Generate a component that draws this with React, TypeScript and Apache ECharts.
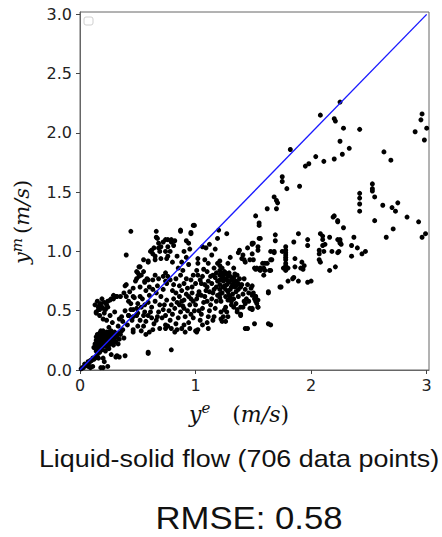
import React, { useEffect, useRef } from "react";
import * as echarts from "echarts";

const xTicks = [0, 1, 2, 3];
const yTicks = [0, 0.5, 1.0, 1.5, 2.0, 2.5, 3.0];
const diagonal = [[0, 0], [3, 3]];

const originPoints = [
  [0.01, 0.01], [0.02, 0.02], [0.03, 0.02], [0.04, 0.05], [0.05, 0.04], [0.06, 0.05], [0.07, 0.07], [0.08, 0.06],
  [0.09, 0.08], [0.1, 0.08], [0.11, 0.1], [0.12, 0.09], [0.13, 0.1], [0.14, 0.11], [0.16, 0.1], [0.15, 0.13],
  [0.07, 0.03], [0.09, 0.02], [0.11, 0.03], [0.18, 0.02], [0.2, 0.02], [0.24, 0.03], [0.21, 0.07], [0.2, 0.1],
  [0.27, 0.13], [0.31, 0.11], [0.34, 0.11], [0.32, 0.12], [0.39, 0.12], [0.59, 0.14], [0.59, 0.15], [0.79, 0.17],
  [0.17, 0.15], [0.19, 0.17], [0.22, 0.16], [0.25, 0.18], [0.14, 0.16],
];

const lowCluster = [
  [0.13, 0.22], [0.14, 0.25], [0.14, 0.28], [0.15, 0.2], [0.15, 0.24], [0.15, 0.27], [0.15, 0.3], [0.16, 0.22],
  [0.16, 0.26], [0.16, 0.29], [0.17, 0.21], [0.17, 0.24], [0.17, 0.27], [0.17, 0.31], [0.18, 0.19], [0.18, 0.23],
  [0.18, 0.26], [0.18, 0.29], [0.18, 0.33], [0.19, 0.21], [0.19, 0.25], [0.19, 0.28], [0.19, 0.31], [0.2, 0.2],
  [0.2, 0.23], [0.2, 0.26], [0.2, 0.3], [0.2, 0.33], [0.21, 0.22], [0.21, 0.25], [0.21, 0.28], [0.21, 0.31],
  [0.22, 0.2], [0.22, 0.24], [0.22, 0.27], [0.22, 0.3], [0.23, 0.22], [0.23, 0.26], [0.23, 0.29], [0.23, 0.32],
  [0.24, 0.24], [0.24, 0.27], [0.24, 0.3], [0.25, 0.21], [0.25, 0.25], [0.25, 0.28], [0.25, 0.32], [0.26, 0.23],
  [0.26, 0.27], [0.26, 0.3], [0.27, 0.25], [0.27, 0.29], [0.27, 0.33], [0.28, 0.22], [0.28, 0.27], [0.28, 0.31],
  [0.29, 0.25], [0.29, 0.29], [0.3, 0.27], [0.3, 0.32], [0.31, 0.24], [0.31, 0.3], [0.32, 0.28], [0.33, 0.31],
  [0.34, 0.26], [0.35, 0.3], [0.36, 0.33], [0.12, 0.19], [0.16, 0.18], [0.24, 0.19], [0.29, 0.21], [0.33, 0.22],
  [0.38, 0.27],
  [0.14, 0.21], [0.16, 0.24], [0.17, 0.29], [0.19, 0.23], [0.19, 0.27], [0.2, 0.24], [0.21, 0.27], [0.22, 0.22],
  [0.22, 0.29], [0.23, 0.25], [0.24, 0.22], [0.24, 0.28], [0.26, 0.25], [0.26, 0.29], [0.27, 0.27], [0.28, 0.25],
  [0.29, 0.27], [0.3, 0.24], [0.18, 0.27], [0.15, 0.26],
];

const leftCloud = [
  [0.16, 0.53], [0.17, 0.51], [0.19, 0.53], [0.23, 0.55], [0.22, 0.51], [0.14, 0.49], [0.14, 0.48], [0.16, 0.51],
  [0.17, 0.46], [0.21, 0.48], [0.26, 0.46], [0.3, 0.49], [0.17, 0.55], [0.18, 0.56], [0.21, 0.57], [0.24, 0.58],
  [0.27, 0.6], [0.29, 0.63], [0.31, 0.62], [0.32, 0.62], [0.29, 0.6], [0.26, 0.59], [0.2, 0.52], [0.24, 0.53],
  [0.15, 0.58], [0.19, 0.6], [0.13, 0.55], [0.2, 0.43], [0.23, 0.42], [0.28, 0.4], [0.33, 0.37], [0.25, 0.36],
  [0.4, 0.72], [0.38, 0.65], [0.46, 0.69], [0.39, 0.71], [0.43, 0.66], [0.35, 0.62],
  [0.49, 0.83], [0.51, 0.79], [0.48, 0.75], [0.56, 0.75], [0.58, 0.77], [0.55, 0.83], [0.52, 0.87], [0.59, 0.91],
  [0.55, 0.93], [0.51, 0.87], [0.5, 0.82], [0.53, 0.8], [0.49, 0.77], [0.56, 0.74], [0.59, 0.76], [0.63, 0.76],
  [0.65, 0.8], [0.68, 0.77], [0.72, 0.79], [0.74, 0.75],
  [0.44, 1.17], [0.66, 1.17], [0.67, 1.11], [0.4, 0.97], [0.68, 1.07], [0.64, 1.03], [0.7, 1.04], [0.74, 1.0],
  [0.61, 1.0], [0.65, 0.93], [0.7, 0.94], [0.59, 0.92], [0.75, 0.94], [0.62, 1.01], [0.63, 0.98], [0.68, 1.03],
  [0.69, 1.0], [0.65, 0.96], [0.72, 1.08], [0.76, 1.1], [0.79, 1.08], [0.81, 1.05], [0.87, 1.17], [0.96, 1.16],
  [0.99, 1.22], [0.66, 1.12],
  [0.4, 0.62], [0.42, 0.58], [0.44, 0.56], [0.47, 0.61], [0.5, 0.56], [0.52, 0.62], [0.53, 0.53], [0.56, 0.55],
  [0.59, 0.57], [0.62, 0.53], [0.65, 0.58], [0.69, 0.55], [0.73, 0.55], [0.75, 0.59], [0.68, 0.49], [0.72, 0.51],
  [0.56, 0.49], [0.49, 0.52], [0.44, 0.51], [0.42, 0.46], [0.46, 0.45], [0.5, 0.48], [0.55, 0.46], [0.59, 0.46],
  [0.62, 0.44], [0.67, 0.45], [0.71, 0.44], [0.74, 0.46], [0.57, 0.41], [0.64, 0.39], [0.69, 0.35], [0.74, 0.35],
  [0.6, 0.32], [0.46, 0.34], [0.46, 0.51], [0.49, 0.46], [0.52, 0.42], [0.45, 0.42], [0.55, 0.37], [0.57, 0.3],
  [0.46, 0.32], [0.37, 0.41], [0.42, 0.46], [0.37, 0.34], [0.36, 0.45], [0.39, 0.5], [0.34, 0.43], [0.41, 0.38],
  [0.5, 0.37], [0.53, 0.33], [0.63, 0.34], [0.66, 0.42], [0.61, 0.49], [0.54, 0.6], [0.6, 0.63], [0.66, 0.65],
  [0.7, 0.62], [0.63, 0.68], [0.57, 0.67], [0.52, 0.7], [0.46, 0.62], [0.72, 0.68], [0.6, 0.7], [0.67, 0.71],
];

const centerCloud = [
  [0.87, 1.18], [0.98, 1.22], [0.96, 1.15], [0.92, 1.09], [0.94, 1.07], [0.95, 1.02], [0.79, 1.1], [0.82, 1.09],
  [0.74, 1.1], [0.76, 1.04], [1.2, 1.18], [1.27, 1.15], [1.19, 1.11], [1.06, 1.04], [1.09, 1.03], [1.17, 1.02],
  [0.84, 0.96], [0.88, 0.91], [0.92, 0.95], [0.85, 0.86], [0.89, 0.84], [0.94, 0.89], [0.76, 0.96],
  [0.74, 0.82], [0.76, 0.79], [0.75, 0.73], [0.78, 0.76], [0.81, 0.72],
  [1.02, 0.94], [1.02, 0.9], [1.01, 0.84], [1.02, 0.8], [1.04, 0.76], [1.05, 0.73], [1.0, 0.73], [0.97, 0.7],
  [1.11, 0.9], [1.1, 0.83], [1.13, 0.79], [1.11, 0.75], [1.08, 0.72],
  [0.79, 0.35], [0.76, 0.37], [0.74, 0.38], [0.82, 0.32], [0.84, 0.34], [0.88, 0.35], [0.91, 0.32], [0.95, 0.35],
  [1.01, 0.32], [1.0, 0.33], [1.02, 0.34], [1.11, 0.35], [1.11, 0.45],
  [0.78, 0.42], [0.8, 0.47], [0.82, 0.52], [0.84, 0.57], [0.86, 0.62], [0.88, 0.67], [0.79, 0.55], [0.81, 0.6],
  [0.83, 0.65], [0.85, 0.44], [0.87, 0.49], [0.89, 0.54], [0.9, 0.59], [0.92, 0.64], [0.93, 0.69], [0.91, 0.45],
  [0.93, 0.5], [0.95, 0.55], [0.96, 0.6], [0.97, 0.65], [0.94, 0.4], [0.98, 0.44], [0.99, 0.5], [1.0, 0.55],
  [1.01, 0.6], [1.03, 0.66], [1.04, 0.42], [1.05, 0.47], [1.06, 0.52], [1.07, 0.57], [1.08, 0.62], [1.09, 0.67],
  [1.1, 0.4], [1.12, 0.5], [1.13, 0.55], [1.14, 0.6], [1.15, 0.65], [1.16, 0.45], [1.17, 0.52], [1.18, 0.58],
  [1.19, 0.63], [0.77, 0.5], [0.83, 0.39], [0.88, 0.58], [0.9, 0.38], [0.96, 0.47], [1.02, 0.63], [1.06, 0.38],
  [1.1, 0.58], [1.15, 0.42], [0.8, 0.67], [0.86, 0.71], [0.92, 0.77], [0.98, 0.8], [1.07, 0.85], [0.83, 0.77],
  [0.87, 0.8], [0.9, 0.73], [0.96, 0.76], [1.06, 0.79], [1.08, 0.93], [0.9, 1.0], [0.8, 0.91], [1.14, 0.97],
  [1.12, 1.06], [0.78, 1.0],
  [1.21, 0.92], [1.21, 0.88], [1.21, 0.84], [1.21, 0.8], [1.21, 0.76], [1.21, 0.72], [1.21, 0.68], [1.21, 0.64],
  [1.21, 0.61], [1.23, 0.86], [1.26, 0.82], [1.28, 0.79], [1.31, 0.76], [1.24, 0.75], [1.27, 0.72], [1.3, 0.68],
  [1.34, 0.7], [1.37, 0.73], [1.4, 0.72], [1.43, 0.68], [1.46, 0.65], [1.49, 0.63], [1.52, 0.62],
  [1.41, 0.53], [1.43, 0.56], [1.39, 0.46], [1.36, 0.49], [1.31, 0.55], [1.27, 0.49], [1.28, 0.45], [1.23, 0.41],
  [1.26, 0.41], [1.43, 0.35], [1.45, 0.35], [1.51, 0.39],
  [1.48, 0.69], [1.51, 0.6], [1.54, 0.59], [1.54, 0.53], [1.49, 0.51], [1.47, 0.52], [1.42, 0.58], [1.39, 0.53],
  [1.36, 0.51], [1.33, 0.53], [1.31, 0.58], [1.28, 0.59], [1.26, 0.53], [1.25, 0.51], [1.22, 0.49], [1.24, 0.45],
  [1.22, 0.43], [1.39, 0.47], [1.35, 0.56],
  [1.22, 0.82], [1.24, 0.8], [1.25, 0.77], [1.27, 0.81], [1.29, 0.74], [1.3, 0.79], [1.32, 0.72], [1.33, 0.78],
  [1.35, 0.75], [1.36, 0.8], [1.38, 0.77], [1.39, 0.7], [1.25, 0.71], [1.28, 0.66], [1.32, 0.64], [1.35, 0.66],
  [1.23, 0.65], [1.26, 0.62], [1.3, 0.61], [1.33, 0.6], [1.37, 0.62], [1.41, 0.64], [1.44, 0.6], [1.46, 0.58],
  [1.45, 0.72], [1.42, 0.77], [1.18, 0.7], [1.17, 0.78], [1.16, 0.86], [1.19, 0.9], [1.14, 0.73], [1.16, 0.68],
  [1.38, 1.01], [1.41, 0.97], [1.45, 1.03], [1.49, 1.06], [1.4, 0.94], [1.43, 0.91], [1.51, 0.86], [1.37, 0.99],
  [1.42, 0.93], [1.47, 0.93], [1.5, 1.07], [1.54, 1.01], [1.56, 1.11], [1.53, 0.86], [1.56, 0.84], [1.59, 0.86],
  [1.6, 0.9], [1.64, 0.84], [1.65, 0.93], [1.68, 0.99], [1.75, 1.0], [1.28, 0.9], [1.33, 0.86], [1.3, 0.95],
  [1.23, 0.78], [1.25, 0.83], [1.27, 0.76], [1.29, 0.82], [1.31, 0.7], [1.33, 0.74], [1.34, 0.81], [1.36, 0.72],
  [1.37, 0.68], [1.26, 0.68], [1.29, 0.63], [1.24, 0.7], [1.19, 0.75], [1.18, 0.82], [1.22, 0.58], [1.15, 0.8],
  [1.12, 0.66], [1.1, 0.7], [1.05, 0.63], [1.03, 0.5], [0.98, 0.58], [0.94, 0.62], [0.9, 0.52], [0.86, 0.55],
];

const rightBand = [
  [1.52, 1.3], [1.55, 1.24], [1.55, 1.22], [1.54, 1.04], [1.49, 1.07], [1.69, 1.14], [1.69, 1.09], [1.55, 1.11],
  [1.89, 1.15], [1.85, 1.08], [1.97, 1.1], [1.97, 1.05], [2.08, 1.15], [2.1, 1.13], [2.1, 1.1], [2.1, 1.05],
  [2.12, 1.06], [2.07, 1.01], [2.11, 1.0], [2.07, 0.98], [2.07, 0.93], [2.08, 0.91], [2.16, 1.12], [2.2, 1.3],
  [2.23, 1.25], [2.23, 1.1], [2.25, 1.08], [2.24, 1.0], [2.21, 0.87], [2.16, 0.84], [2.18, 1.0],
  [1.78, 1.04], [1.78, 1.01], [1.78, 0.99], [1.78, 0.97], [1.78, 0.95], [1.78, 0.93], [1.78, 0.9], [1.78, 0.88],
  [1.78, 0.86], [1.78, 0.84],
  [1.76, 0.86], [1.8, 0.86], [1.86, 0.94], [1.86, 0.87], [1.91, 0.86], [1.92, 0.91], [1.94, 0.88], [1.93, 0.85],
  [1.85, 0.78], [1.89, 0.75], [1.8, 0.75], [1.73, 0.7], [1.97, 0.74], [2.0, 0.75],
  [1.65, 1.0], [1.66, 0.93], [1.62, 0.9], [1.58, 0.9], [1.55, 0.85], [1.52, 0.85], [1.56, 0.86], [1.6, 0.84],
  [1.59, 0.8], [1.65, 0.84], [1.68, 1.0], [1.49, 0.98], [1.5, 0.93],
  [1.63, 0.66], [1.5, 0.65], [1.52, 0.62], [1.52, 0.58], [1.53, 0.56], [1.54, 0.53], [1.49, 0.52], [1.49, 0.71],
  [1.63, 0.39], [1.65, 0.38], [1.63, 0.65], [1.74, 0.7], [1.84, 0.77],
  [2.28, 1.2], [2.23, 1.26], [2.37, 1.12], [2.25, 1.1], [2.25, 1.07], [2.26, 1.06], [2.23, 0.99], [2.35, 1.05],
  [2.4, 1.03], [2.44, 0.98], [2.47, 1.0], [2.35, 0.96],
  [2.55, 1.26], [2.71, 1.19], [2.65, 1.12], [2.62, 1.39], [2.7, 1.37], [2.73, 1.34], [2.75, 1.41], [2.83, 1.29],
  [2.93, 1.25], [2.99, 1.15], [2.96, 1.12],
  [2.42, 1.49], [2.42, 1.45], [2.42, 1.4], [2.42, 1.34], [2.53, 1.57], [2.53, 1.53], [2.53, 1.51], [2.55, 1.46],
];

const upperPoints = [
  [2.08, 2.15], [2.2, 2.12], [2.21, 2.1], [2.25, 1.93], [1.82, 1.86], [2.04, 1.8], [1.98, 1.74], [1.95, 1.72],
  [2.11, 1.76], [2.2, 1.78], [1.75, 1.63], [1.75, 1.59], [1.79, 1.53], [1.9, 1.55], [1.68, 1.46], [1.7, 1.43],
  [1.71, 1.41], [1.62, 1.36], [1.7, 1.36], [2.19, 1.29], [2.25, 2.26], [2.28, 2.04], [2.42, 2.03], [2.33, 1.87],
  [2.27, 1.82], [2.63, 1.84], [2.69, 1.77], [2.96, 2.16], [2.95, 2.11], [3.0, 2.04], [2.9, 2.01], [2.98, 1.94],
];

const allPoints = [
  ...originPoints, ...lowCluster, ...leftCloud, ...centerCloud, ...rightBand, ...upperPoints,
];

const serif = "DejaVu Serif";

export default function App() {
  const ref = useRef<HTMLDivElement>(null);
  useEffect(() => {
    document.body.style.margin = "0";
    const chart = echarts.init(ref.current!, null, { renderer: "svg" });
    const axisLineStyle = { color: "#666", width: 1 };
    chart.setOption({
      animation: false,
      backgroundColor: "#fff",
      grid: {
        left: 80, top: 12, right: 13, bottom: 167,
        show: true, borderColor: "#666", borderWidth: 1, backgroundColor: "transparent",
      },
      xAxis: {
        type: "value", min: 0, max: 3.02,
        splitLine: { show: false },
        axisLine: { show: true, onZero: false, lineStyle: axisLineStyle },
        axisTick: { show: true, length: 4, lineStyle: { color: "#444" }, customValues: xTicks },
        axisLabel: {
          customValues: xTicks, margin: 7, color: "#222", fontSize: 16, fontFamily: "DejaVu Sans",
          formatter: (v: number) => String(v),
        },
      },
      yAxis: {
        type: "value", min: 0, max: 3.02,
        splitLine: { show: false },
        axisLine: { show: true, onZero: false, lineStyle: axisLineStyle },
        axisTick: { show: true, length: 4, lineStyle: { color: "#444" }, customValues: yTicks },
        axisLabel: {
          customValues: yTicks, margin: 8, color: "#222", fontSize: 16, fontFamily: "DejaVu Sans",
          formatter: (v: number) => v.toFixed(1),
        },
      },
      series: [
        {
          type: "scatter",
          data: allPoints,
          symbol: "circle",
          symbolSize: 5,
          itemStyle: { color: "#000", opacity: 1 },
          z: 2,
        },
        {
          type: "line",
          data: diagonal,
          showSymbol: false,
          symbol: "none",
          lineStyle: { color: "#1a1aff", width: 1.4 },
          z: 3,
        },
      ],
      graphic: [
        {
          type: "rect",
          shape: { x: 84, y: 17, width: 9, height: 8, r: 2 },
          style: { fill: "#fff", stroke: "#d0d0d0", lineWidth: 1 },
          z: 10,
        },
        {
          type: "text",
          x: 239, y: 414,
          style: {
            text: "{i|y}{s|e}{g| }{n|(}{i|m/s}{n|)}",
            align: "center", verticalAlign: "middle",
            rich: {
              i: { fontFamily: serif, fontStyle: "italic", fontSize: 22, fill: "#111" },
              s: { fontFamily: serif, fontStyle: "italic", fontSize: 15, fill: "#111", padding: [0, 0, 12, 0] },
              g: { fontSize: 22, width: 22 },
              n: { fontFamily: serif, fontSize: 22, fill: "#111" },
            },
          },
        },
        {
          type: "text",
          x: 22, y: 222,
          rotation: Math.PI / 2,
          style: {
            text: "{i|y}{s|m}{g| }{n|(}{i|m/s}{n|)}",
            align: "center", verticalAlign: "middle",
            rich: {
              i: { fontFamily: serif, fontStyle: "italic", fontSize: 21, fill: "#111" },
              s: { fontFamily: serif, fontStyle: "italic", fontSize: 15, fill: "#111", padding: [0, 0, 11, 0] },
              g: { fontSize: 21, width: 4 },
              n: { fontFamily: serif, fontSize: 21, fill: "#111" },
            },
          },
        },
        {
          type: "text",
          x: 239, y: 459,
          scaleX: 1.12,
          style: {
            text: "Liquid-solid flow (706 data points)",
            fontFamily: "Liberation Sans", fontSize: 24, fill: "#111",
            align: "center", verticalAlign: "middle",
          },
        },
        {
          type: "text",
          x: 249, y: 518,
          scaleX: 1.12,
          style: {
            text: "RMSE: 0.58",
            fontFamily: "Liberation Sans", fontSize: 31, fill: "#111",
            align: "center", verticalAlign: "middle",
          },
        },
      ],
    });
    return () => chart.dispose();
  }, []);
  return <div ref={ref} style={{ width: 442, height: 537 }} />;
}
